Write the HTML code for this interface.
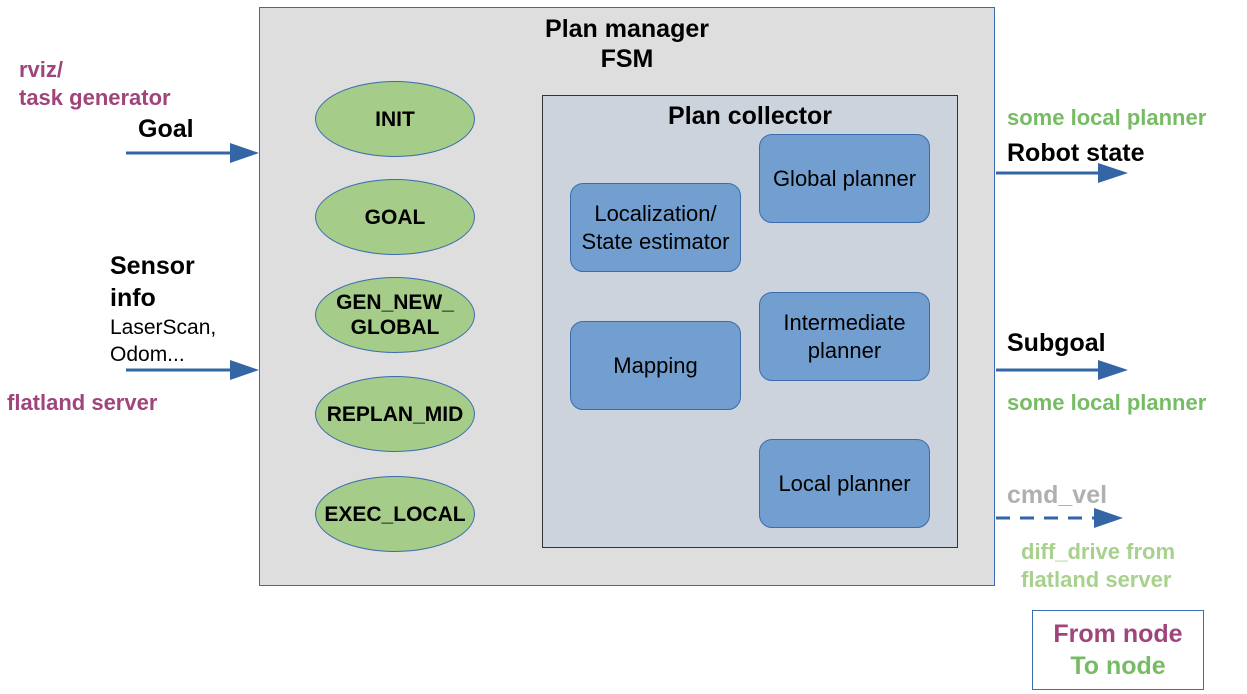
<!DOCTYPE html>
<html><head><meta charset="utf-8"><style>
body{margin:0;width:1247px;height:694px;background:#fff;position:relative;overflow:hidden;font-family:"Liberation Sans",sans-serif}
.a{position:absolute}
.t{position:absolute;white-space:nowrap}
.b{font-weight:bold}
.ell{position:absolute;width:160px;height:76px;border-radius:50%;background:#a5cc88;border:1px solid #3b6cae;box-sizing:border-box;display:flex;align-items:center;justify-content:center;text-align:center;font-weight:bold;font-size:21px;line-height:25px}
.rb{position:absolute;background:#729fcf;border:1px solid #3b6cae;border-radius:13px;box-sizing:border-box;display:flex;align-items:center;justify-content:center;text-align:center;font-size:22px;line-height:28px}
</style></head><body>
<div class="a" style="left:259px;top:7px;width:736px;height:579px;background:#dedede;border:1px solid #3b6cae;box-sizing:border-box"></div>
<div class="t b" style="left:259px;width:736px;top:14px;text-align:center;font-size:25px;line-height:30px">Plan manager<br>FSM</div>
<div class="a" style="left:542px;top:95px;width:416px;height:453px;background:#ccd3dc;border:1px solid #333;box-sizing:border-box"></div>
<div class="t b" style="left:542px;width:416px;top:102px;text-align:center;font-size:25px">Plan collector</div>
<div class="ell" style="left:315px;top:81px">INIT</div>
<div class="ell" style="left:315px;top:179px">GOAL</div>
<div class="ell" style="left:315px;top:277px">GEN_NEW_<br>GLOBAL</div>
<div class="ell" style="left:315px;top:376px">REPLAN_MID</div>
<div class="ell" style="left:315px;top:476px">EXEC_LOCAL</div>
<div class="rb" style="left:570px;top:183px;width:171px;height:89px">Localization/<br>State estimator</div>
<div class="rb" style="left:570px;top:321px;width:171px;height:89px">Mapping</div>
<div class="rb" style="left:759px;top:134px;width:171px;height:89px">Global planner</div>
<div class="rb" style="left:759px;top:292px;width:171px;height:89px">Intermediate<br>planner</div>
<div class="rb" style="left:759px;top:439px;width:171px;height:89px">Local planner</div>
<svg class="a" style="left:0;top:0" width="1247" height="694">
<g stroke="#3465a4" stroke-width="3" fill="#3465a4">
<line x1="126" y1="153" x2="235" y2="153"/><polygon points="230,143 259,153 230,163" stroke="none"/>
<line x1="126" y1="370" x2="235" y2="370"/><polygon points="230,360 259,370 230,380" stroke="none"/>
<line x1="996" y1="173" x2="1103" y2="173"/><polygon points="1098,163 1128,173 1098,183" stroke="none"/>
<line x1="996" y1="370" x2="1103" y2="370"/><polygon points="1098,360 1128,370 1098,380" stroke="none"/>
<line x1="996" y1="518" x2="1098" y2="518" stroke-dasharray="14,10"/><polygon points="1094,508 1123,518 1094,528" stroke="none"/>
</g></svg>
<div class="t b" style="left:19px;top:56px;font-size:22px;line-height:28px;color:#a0457b">rviz/<br>task generator</div>
<div class="t b" style="left:138px;top:115px;font-size:25px">Goal</div>
<div class="t b" style="left:110px;top:250px;font-size:25px;line-height:32px">Sensor<br>info</div>
<div class="t" style="left:110px;top:314px;font-size:21px;line-height:27px">LaserScan,<br>Odom...</div>
<div class="t b" style="left:7px;top:390px;font-size:22px;color:#a0457b">flatland server</div>
<div class="t b" style="left:1007px;top:105px;font-size:22px;color:#77bc65">some local planner</div>
<div class="t b" style="left:1007px;top:139px;font-size:25px">Robot state</div>
<div class="t b" style="left:1007px;top:329px;font-size:25px">Subgoal</div>
<div class="t b" style="left:1007px;top:390px;font-size:22px;color:#77bc65">some local planner</div>
<div class="t b" style="left:1007px;top:481px;font-size:25px;color:#b0b0b0">cmd_vel</div>
<div class="t b" style="left:1021px;top:538px;font-size:22px;line-height:28px;color:#a9d18e">diff_drive from<br>flatland server</div>
<div class="a" style="left:1032px;top:610px;width:172px;height:80px;border:1px solid #3b6cae;box-sizing:border-box"></div>
<div class="t b" style="left:1032px;width:172px;top:618px;text-align:center;font-size:25px;line-height:32px"><span style="color:#a0457b">From node</span><br><span style="color:#77bc65">To node</span></div>
</body></html>
